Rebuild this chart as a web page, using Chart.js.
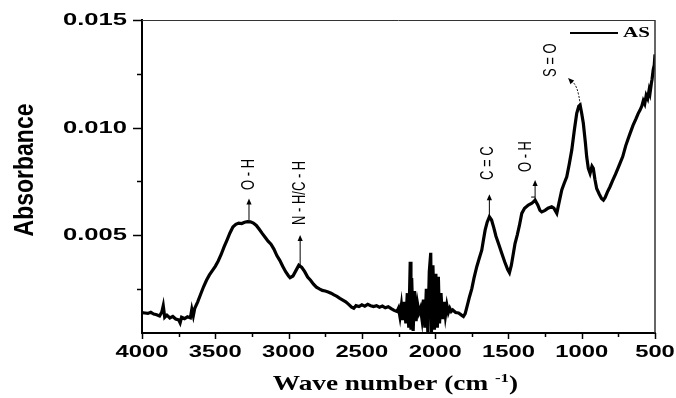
<!DOCTYPE html>
<html>
<head>
<meta charset="utf-8">
<script src="https://cdn.jsdelivr.net/npm/chart.js@4.4.1/dist/chart.umd.min.js"></script>
<style>
  html, body { margin: 0; padding: 0; background: #fff; }
</style>
</head>
<body>
<canvas id="ftir" width="676" height="398"></canvas>
<script>
// FTIR spectrum of sample AS
const waveNumbers = [
  4000, 3980, 3960, 3940, 3920, 3900, 3880, 3865, 3855, 3845, 3830, 3810, 3790, 3770, 3750, 3740, 3730, 3710, 3690, 3670, 3660, 3650,
  3640, 3620, 3600, 3580, 3560, 3540, 3520, 3500, 3480, 3460, 3440, 3420, 3400, 3380, 3360, 3340, 3320, 3300, 3280, 3260, 3240,
  3220, 3200, 3180, 3160, 3140, 3120, 3100, 3080, 3060, 3040, 3020, 3000, 2990, 2970, 2950, 2930, 2910, 2890, 2870, 2850, 2830,
  2810, 2790, 2770, 2750, 2730, 2710, 2690, 2670, 2650, 2630, 2610, 2590, 2570, 2555, 2540, 2520, 2500, 2480, 2460, 2440, 2420,
  2400, 2380, 2360, 2340, 2320, 2300, 2280, 2260,
  2250, 2240, 2230, 2220, 2210, 2200, 2190, 2180, 2170, 2165, 2160, 2150, 2140, 2130, 2120, 2110, 2100, 2090, 2080, 2070, 2060,
  2050, 2040, 2030, 2025, 2015, 2005, 1995, 1985, 1978, 1970, 1960, 1950, 1940, 1930, 1920, 1910, 1900, 1890, 1880, 1860, 1840,
  1820, 1807, 1795, 1780, 1765, 1750, 1735, 1716, 1700, 1682, 1670, 1659, 1645, 1630, 1615, 1600, 1585, 1565, 1545, 1525, 1505,
  1493, 1480, 1465, 1455, 1440, 1425, 1409, 1390, 1364, 1340, 1318, 1300, 1285, 1273, 1250, 1230, 1205, 1190, 1170, 1155, 1136,
  1120, 1102, 1085, 1068, 1050, 1034, 1020, 1011, 1000, 989, 975, 966, 955, 943, 930, 921, 910, 898, 880, 865, 852, 840, 825,
  807, 790, 770, 750, 739, 720, 700, 685, 670, 650, 630, 615, 602, 590, 580, 570, 560, 550, 540, 534, 525, 520, 512, 505, 500
];
const absorbance = [
  0.00140, 0.00138, 0.00136, 0.00141, 0.00133, 0.00130, 0.00124, 0.00142, 0.00172, 0.00118, 0.00128, 0.00115, 0.00122, 0.00110, 0.00106, 0.00092, 0.00118, 0.00112, 0.00120, 0.00115, 0.00155, 0.00125,
  0.00160, 0.00190, 0.00225, 0.00260, 0.00290, 0.00315, 0.00335, 0.00355, 0.00380, 0.00410, 0.00445, 0.00477, 0.00510, 0.00538, 0.00550, 0.00556, 0.00554, 0.00560, 0.00563, 0.00562, 0.00556,
  0.00545, 0.00527, 0.00508, 0.00490, 0.00472, 0.00458, 0.00435, 0.00405, 0.00383, 0.00355, 0.00330, 0.00310, 0.00302, 0.00310, 0.00335, 0.00360, 0.00350, 0.00330, 0.00305, 0.00290, 0.00272,
  0.00258, 0.00250, 0.00243, 0.00240, 0.00236, 0.00230, 0.00222, 0.00215, 0.00206, 0.00198, 0.00190, 0.00178, 0.00165, 0.00160, 0.00172, 0.00168, 0.00176, 0.00170, 0.00178, 0.00172, 0.00168,
  0.00172, 0.00165, 0.00170, 0.00162, 0.00167, 0.00158, 0.00150, 0.00145,
  0.00160, 0.00120, 0.00175, 0.00105, 0.00190, 0.00090, 0.00230, 0.00070, 0.00376, 0.00060, 0.00300, 0.00055, 0.00240, 0.00100, 0.00180, 0.00140, 0.00160, 0.00110, 0.00200, 0.00070, 0.00250,
  0.00050, 0.00330, 0.00418, 0.00050, 0.00360, 0.00060, 0.00320, 0.00070, 0.00306, 0.00090, 0.00230, 0.00110, 0.00190, 0.00125, 0.00175, 0.00140, 0.00160, 0.00145, 0.00152, 0.00140, 0.00138,
  0.00128, 0.00122, 0.00135, 0.00175, 0.00215, 0.00250, 0.00300, 0.00353, 0.00390, 0.00430, 0.00480, 0.00523, 0.00560, 0.00585, 0.00570, 0.00535, 0.00495, 0.00455, 0.00415, 0.00375, 0.00340,
  0.00325, 0.00360, 0.00420, 0.00461, 0.00500, 0.00545, 0.00601, 0.00625, 0.00640, 0.00648, 0.00663, 0.00640, 0.00615, 0.00608, 0.00615, 0.00625, 0.00632, 0.00625, 0.00601, 0.00650, 0.00710,
  0.00740, 0.00771, 0.00830, 0.00895, 0.00990, 0.01066, 0.01100, 0.01105, 0.01065, 0.01020, 0.00930, 0.00864, 0.00810, 0.00787, 0.00820, 0.00810, 0.00760, 0.00717, 0.00690, 0.00670, 0.00663, 0.00675, 0.00700,
  0.00725, 0.00752, 0.00782, 0.00815, 0.00833, 0.00865, 0.00915, 0.00945, 0.00973, 0.01010, 0.01040, 0.01065, 0.01081, 0.01100, 0.01125, 0.01110, 0.01150, 0.01135, 0.01175, 0.01160, 0.01205, 0.01225, 0.01270, 0.01290, 0.01340
];
const xTickLabels = ['4000', '3500', '3000', '2500', '2000', '1500', '1000', '500'];
const yTickLabels = ['0.005', '0.010', '0.015'];
const seriesName = 'AS';

// band assignments: arrow from the peak up to a tip, label above it
const peaks = [
  { label: 'O - H', wave: 3270, from: 0.0057, to: 0.0067, textWave: 3273, textAt: 0.0071 },
  { label: 'N - H/C - H', wave: 2921, from: 0.0036, to: 0.0050, textWave: 2921, textAt: 0.00547 },
  { label: 'C = C', wave: 1630, from: 0.00585, to: 0.0069, textWave: 1638, textAt: 0.00756 },
  { label: 'O - H', wave: 1318, from: 0.00663, to: 0.00756, textWave: 1378, textAt: 0.00793, foot: 1345 },
  { label: 'S = O', wave: 1011, from: 0.01105, to: 0.0123, tipWave: 1093, textWave: 1207, textAt: 0.01235, curved: true }
];

function drawText(ctx, text, x, y, font, sx, rot, align) {
  ctx.save();
  ctx.translate(x, y);
  ctx.scale(sx, 1);
  if (rot) ctx.rotate(rot);
  ctx.font = font;
  ctx.textAlign = align || 'center';
  ctx.textBaseline = 'middle';
  ctx.fillStyle = '#000';
  ctx.fillText(text, 0, 0);
  ctx.restore();
}

function arrowHead(ctx, x, y, angle) {
  ctx.save();
  ctx.translate(x, y);
  ctx.rotate(angle);
  ctx.beginPath();
  ctx.moveTo(0, 0);
  ctx.lineTo(-6, -2.6);
  ctx.lineTo(-6, 2.6);
  ctx.closePath();
  ctx.fill();
  ctx.restore();
}

const decorations = {
  id: 'decorations',
  afterDraw(chart) {
    const { ctx, chartArea: a, scales: { x, y } } = chart;
    ctx.save();
    ctx.strokeStyle = '#000';
    ctx.fillStyle = '#000';

    // box: top and right
    ctx.lineWidth = 1;
    ctx.strokeStyle = '#333';
    ctx.beginPath();
    ctx.moveTo(a.left, a.top + 0.5);
    ctx.lineTo(a.right, a.top + 0.5);
    ctx.stroke();
    ctx.lineWidth = 1.5;
    ctx.beginPath();
    ctx.moveTo(a.right, a.top);
    ctx.lineTo(a.right, a.bottom);
    ctx.stroke();
    ctx.strokeStyle = '#000';

    // tick marks
    ctx.lineWidth = 1.5;
    y.ticks.forEach(t => {
      const py = Math.round(y.getPixelForValue(t.value)) + 0.5;
      const major = Math.abs(t.value / 0.005 - Math.round(t.value / 0.005)) < 1e-6;
      ctx.beginPath();
      ctx.moveTo(a.left - (major ? 9 : 5), py);
      ctx.lineTo(a.left, py);
      ctx.stroke();
    });
    x.ticks.forEach(t => {
      const px = Math.round(x.getPixelForValue(t.value)) + 0.5;
      const major = t.value % 500 === 0;
      ctx.beginPath();
      ctx.moveTo(px, a.bottom);
      ctx.lineTo(px, a.bottom + (major ? 6 : 4));
      ctx.stroke();
    });

    // tick labels
    yTickLabels.forEach(l => {
      drawText(ctx, l, a.left - 15, y.getPixelForValue(Number(l)) + 0.5, 'bold 16.5px "Liberation Sans", Arial, sans-serif', 1.55, 0, 'right');
    });
    xTickLabels.forEach(l => {
      drawText(ctx, l, x.getPixelForValue(Number(l)), a.bottom + 19, 'bold 17px "Liberation Sans", Arial, sans-serif', 1.4, 0, 'center');
    });

    // axis titles
    drawText(ctx, 'Absorbance', 25, 170, 'bold 23px "Liberation Sans", Arial, sans-serif', 1.2, -Math.PI / 2, 'center');
    ctx.save();
    const sx = 1.3;
    const big = 'bold 21px "Liberation Serif", "Times New Roman", serif';
    const small = 'bold 13px "Liberation Serif", "Times New Roman", serif';
    ctx.font = big;
    const w1 = ctx.measureText('Wave number (cm ').width;
    const w3 = ctx.measureText(')').width;
    ctx.font = small;
    const w2 = ctx.measureText('-1').width;
    const total = w1 + w2 + w3;
    ctx.translate((a.left + a.right) / 2 - 3, 384);
    ctx.scale(sx, 1);
    ctx.textBaseline = 'alphabetic';
    ctx.textAlign = 'left';
    ctx.font = big;
    ctx.fillText('Wave number (cm ', -total / 2, 6);
    ctx.font = small;
    ctx.fillText('-1', -total / 2 + w1, -2);
    ctx.font = big;
    ctx.fillText(')', -total / 2 + w1 + w2, 6);
    ctx.restore();

    // legend
    ctx.lineWidth = 2;
    ctx.beginPath();
    ctx.moveTo(570, 33);
    ctx.lineTo(618, 33);
    ctx.stroke();
    drawText(ctx, seriesName, 623, 33, 'bold 14px "Liberation Serif", "Times New Roman", serif', 1.5, 0, 'left');

    // band assignments
    ctx.lineWidth = 1;
    peaks.forEach(p => {
      const px = x.getPixelForValue(p.wave);
      const y0 = y.getPixelForValue(p.from);
      const y1 = y.getPixelForValue(p.to);
      if (p.curved) {
        const tx = x.getPixelForValue(p.tipWave);
        ctx.save();
        ctx.setLineDash([2, 1.5]);
        ctx.beginPath();
        ctx.moveTo(px, y0);
        ctx.quadraticCurveTo(px - 2, y1 + 6, tx + 3, y1 + 3);
        ctx.stroke();
        ctx.restore();
        arrowHead(ctx, tx, y1, Math.atan2(-3, -3) );
      } else {
        ctx.beginPath();
        ctx.moveTo(px, y0);
        ctx.lineTo(px, y1 + 4);
        ctx.stroke();
        arrowHead(ctx, px, y1, -Math.PI / 2);
        if (p.foot) {
          const fx = x.getPixelForValue(p.foot);
          ctx.beginPath();
          ctx.moveTo(fx, y1 + 17);
          ctx.lineTo(px, y1 + 17);
          ctx.stroke();
        }
      }
      drawText(ctx, p.label, x.getPixelForValue(p.textWave), y.getPixelForValue(p.textAt), '13px "Liberation Sans", Arial, sans-serif', 1.4, -Math.PI / 2, 'left');
    });
    ctx.restore();
  }
};

const ctx = document.getElementById('ftir').getContext('2d');
const ftirChart = new Chart(ctx, {
  type: 'line',
  data: {
    datasets: [{
      label: seriesName,
      data: waveNumbers.map((w, i) => ({ x: w, y: absorbance[i] })),
      borderColor: '#000',
      borderWidth: 3.2,
      pointRadius: 0,
      tension: 0,
      fill: false,
    }],
  },
  options: {
    responsive: false,
    devicePixelRatio: 1,
    animation: false,
    layout: { padding: { left: 0, right: 21, top: 20, bottom: 0 } },
    plugins: { legend: { display: false }, tooltip: { enabled: false } },
    scales: {
      x: {
        type: 'linear',
        reverse: true,
        min: 500,
        max: 4000,
        grid: { display: false },
        border: { display: true, color: '#000', width: 2 },
        ticks: { display: false },
        afterBuildTicks: s => { s.ticks = []; for (let v = 500; v <= 4000; v += 250) s.ticks.push({ value: v }); },
        afterFit: s => { s.height = 65; },
      },
      y: {
        min: 0.00045,
        max: 0.015,
        grid: { display: false },
        border: { display: true, color: '#000', width: 2 },
        ticks: { display: false },
        afterBuildTicks: s => { s.ticks = []; for (let k = 1; k <= 6; k++) s.ticks.push({ value: k * 0.0025 }); },
        afterFit: s => { s.width = 142; },
      },
    },
  },
  plugins: [decorations],
});
</script>
</body>
</html>
